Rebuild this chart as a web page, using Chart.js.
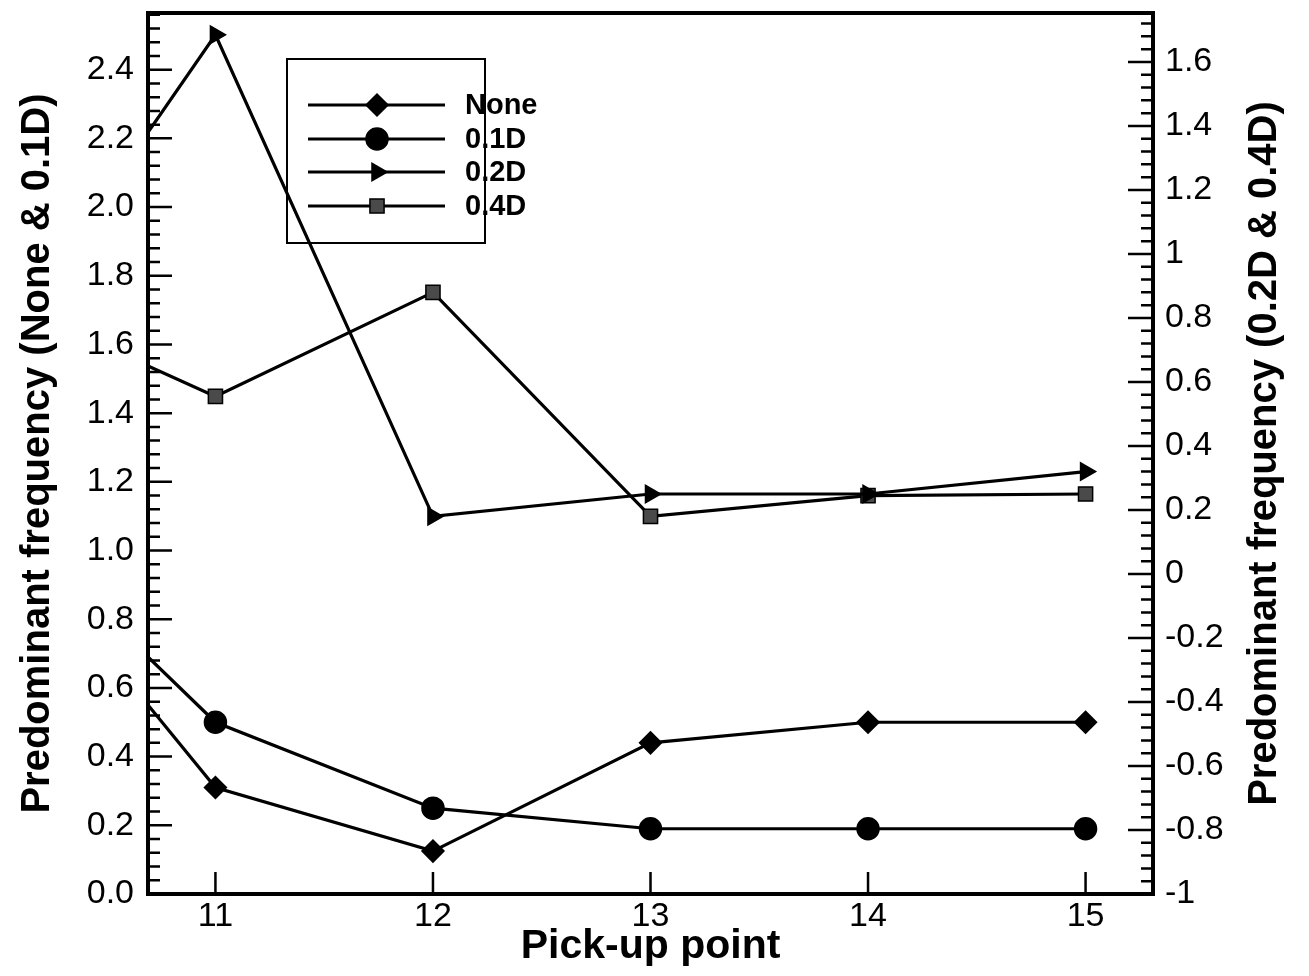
<!DOCTYPE html>
<html>
<head>
<meta charset="utf-8">
<script src="https://cdn.jsdelivr.net/npm/chart.js@4.4.1/dist/chart.umd.min.js"></script>
<style>
  html, body { margin: 0; padding: 0; background: #fff; }
  #wrap { width: 1309px; height: 976px; }
</style>
</head>
<body>
<div id="wrap"><canvas id="freqChart" width="1309" height="976"></canvas></div>
<script>
// x positions (first one is where the curves come in at the left frame)
const pickupPoints = [10.69, 11, 12, 13, 14, 15];

// left axis (None & 0.1D)
const noneValues = [0.55, 0.31, 0.125, 0.44, 0.50, 0.50];
const d01Values = [0.69, 0.50, 0.25, 0.19, 0.19, 0.19];

// right axis (0.2D & 0.4D)
const d02Values = [1.38, 1.685, 0.18, 0.25, 0.25, 0.32];
const d04Values = [0.65, 0.555, 0.88, 0.18, 0.245, 0.25];

const seriesNames = ['None', '0.1D', '0.2D', '0.4D'];

const xTicks = [11, 12, 13, 14, 15];
const leftTicks = [0, 0.2, 0.4, 0.6, 0.8, 1.0, 1.2, 1.4, 1.6, 1.8, 2.0, 2.2, 2.4];
const leftTickLabels = ['0.0', '0.2', '0.4', '0.6', '0.8', '1.0', '1.2', '1.4', '1.6', '1.8', '2.0', '2.2', '2.4'];
const rightTicks = [-1, -0.8, -0.6, -0.4, -0.2, 0, 0.2, 0.4, 0.6, 0.8, 1, 1.2, 1.4, 1.6];
const rightTickLabels = ['-1', '-0.8', '-0.6', '-0.4', '-0.2', '0', '0.2', '0.4', '0.6', '0.8', '1', '1.2', '1.4', '1.6'];

const FONT = '"Liberation Sans", Arial, Helvetica, sans-serif';

const toPoints = (vals) => vals.map((v, i) => ({ x: pickupPoints[i], y: v }));

// marker styles for each series (legend uses the same ones)
const markers = [
    { pointStyle: 'rectRot', radius: 11, rotation: 0, fill: '#000' },
    { pointStyle: 'circle', radius: 11, rotation: 0, fill: '#000' },
    { pointStyle: 'triangle', radius: 10, rotation: 90, fill: '#000' },
    { pointStyle: 'rect', radius: 10, rotation: 0, fill: '#4a4a4a' }
];

function makeDataset(i, vals, axis) {
    const m = markers[i];
    return {
        label: seriesNames[i],
        data: toPoints(vals),
        yAxisID: axis,
        borderColor: '#000',
        borderWidth: 3.2,
        pointStyle: m.pointStyle,
        pointRotation: m.rotation,
        // no marker where the curve enters from the frame
        pointRadius: (c) => c.dataIndex === 0 ? 0 : m.radius,
        pointBackgroundColor: m.fill,
        pointBorderColor: '#000',
        pointBorderWidth: 1.5,
        tension: 0,
        fill: false
    };
}

// drop the half-label padding so the plot frame can go right up to the top
function noEdgePadding(s) {
    s.paddingTop = 0;
    s.paddingBottom = 0;
    s.paddingLeft = 0;
    s.paddingRight = 0;
}

// inward ticks + frame
const framePlugin = {
    id: 'frame',
    afterDraw(chart) {
        const { ctx, chartArea: a, scales } = chart;
        ctx.save();
        ctx.strokeStyle = '#000';
        ctx.lineCap = 'butt';

        const yl = scales.y, yr = scales.y2, x = scales.x;
        ctx.lineWidth = 2.5;
        ctx.beginPath();
        for (let k = 0; k * 0.04 <= yl.max + 1e-9; k++) {
            const py = yl.getPixelForValue(k * 0.04);
            const len = k % 5 === 0 ? 24 : 12;
            ctx.moveTo(a.left, py);
            ctx.lineTo(a.left + len, py);
        }
        for (let k = 0; -1 + k * 0.04 <= yr.max + 1e-9; k++) {
            const py = yr.getPixelForValue(-1 + k * 0.04);
            const len = k % 5 === 0 ? 25 : 12;
            ctx.moveTo(a.right, py);
            ctx.lineTo(a.right - len, py);
        }
        xTicks.forEach(v => {
            const px = x.getPixelForValue(v);
            ctx.moveTo(px, a.bottom);
            ctx.lineTo(px, a.bottom - 22);
        });
        ctx.stroke();

        ctx.lineWidth = 4;
        ctx.strokeRect(a.left, a.top, a.right - a.left, a.bottom - a.top);

        // right axis title reads bottom to top like the left one
        ctx.fillStyle = '#000';
        ctx.font = 'bold 40px ' + FONT;
        ctx.textAlign = 'center';
        ctx.textBaseline = 'middle';
        ctx.translate(1265, (a.top + a.bottom) / 2);
        ctx.rotate(-Math.PI / 2);
        ctx.fillText('Predominant frequency (0.2D & 0.4D)', 0, 0);
        ctx.restore();
    }
};

// boxed legend inside the plot
const legendPlugin = {
    id: 'boxLegend',
    afterDraw(chart) {
        const { ctx } = chart;
        const rows = [105, 139, 172, 206];
        ctx.save();
        ctx.strokeStyle = '#000';
        ctx.lineWidth = 2;
        ctx.strokeRect(287, 59, 198, 184);

        rows.forEach((ry, i) => {
            const m = markers[i];
            ctx.lineWidth = 3.2;
            ctx.beginPath();
            ctx.moveTo(308, ry);
            ctx.lineTo(445, ry);
            ctx.stroke();

            ctx.fillStyle = m.fill;
            ctx.lineWidth = 1.5;
            Chart.helpers.drawPoint(ctx, {
                pointStyle: m.pointStyle,
                radius: m.radius,
                rotation: m.rotation,
                borderWidth: 1.5
            }, 377, ry);

            ctx.fillStyle = '#000';
            ctx.font = 'bold 29px ' + FONT;
            ctx.textAlign = 'left';
            ctx.textBaseline = 'middle';
            ctx.fillText(seriesNames[i], 465, ry + 1);
        });
        ctx.restore();
    }
};

const canvas = document.getElementById('freqChart');
const ctx = canvas.getContext('2d');

new Chart(ctx, {
    type: 'line',
    data: {
        datasets: [
            makeDataset(0, noneValues, 'y'),
            makeDataset(1, d01Values, 'y'),
            makeDataset(2, d02Values, 'y2'),
            makeDataset(3, d04Values, 'y2')
        ]
    },
    options: {
        responsive: false,
        animation: false,
        events: [],
        layout: { padding: { top: 13, left: 0, right: 0, bottom: 0 } },
        plugins: {
            legend: { display: false },
            tooltip: { enabled: false }
        },
        scales: {
            x: {
                type: 'linear',
                position: 'bottom',
                min: 10.69,
                max: 15.31,
                afterBuildTicks: (s) => { s.ticks = xTicks.map(v => ({ value: v })); },
                afterFit: (s) => { s.height = 82; noEdgePadding(s); },
                grid: { display: false, drawTicks: false },
                border: { display: false },
                ticks: {
                    color: '#000',
                    padding: 6,
                    maxRotation: 0,
                    font: { family: FONT, size: 34, lineHeight: 1 },
                    callback: (v) => String(v)
                },
                title: {
                    display: true,
                    text: 'Pick-up point',
                    color: '#000',
                    padding: { top: 0, bottom: 9 },
                    font: { family: FONT, size: 41, weight: 'bold', lineHeight: 1 }
                }
            },
            y: {
                type: 'linear',
                position: 'left',
                min: 0,
                max: 2.565,
                afterBuildTicks: (s) => { s.ticks = leftTicks.map(v => ({ value: v })); },
                afterFit: (s) => { s.width = 148; noEdgePadding(s); },
                grid: { display: false, drawTicks: false },
                border: { display: false },
                ticks: {
                    color: '#000',
                    padding: 14,
                    font: { family: FONT, size: 34, lineHeight: 1 },
                    callback: (v) => {
                        const i = leftTicks.findIndex(t => Math.abs(t - v) < 1e-6);
                        return i >= 0 ? leftTickLabels[i] : '';
                    }
                },
                title: {
                    display: true,
                    text: 'Predominant frequency (None & 0.1D)',
                    color: '#000',
                    padding: { top: 18, bottom: 0 },
                    font: { family: FONT, size: 40, weight: 'bold', lineHeight: 1 }
                }
            },
            y2: {
                type: 'linear',
                position: 'right',
                min: -1,
                max: 1.753,
                afterBuildTicks: (s) => { s.ticks = rightTicks.map(v => ({ value: v })); },
                afterFit: (s) => { s.width = 156; noEdgePadding(s); },
                grid: { display: false, drawTicks: false },
                border: { display: false },
                ticks: {
                    color: '#000',
                    padding: 12,
                    font: { family: FONT, size: 34, lineHeight: 1 },
                    callback: (v) => {
                        const i = rightTicks.findIndex(t => Math.abs(t - v) < 1e-6);
                        return i >= 0 ? rightTickLabels[i] : '';
                    }
                },
                title: { display: false }
            }
        }
    },
    plugins: [framePlugin, legendPlugin]
});
</script>
</body>
</html>
